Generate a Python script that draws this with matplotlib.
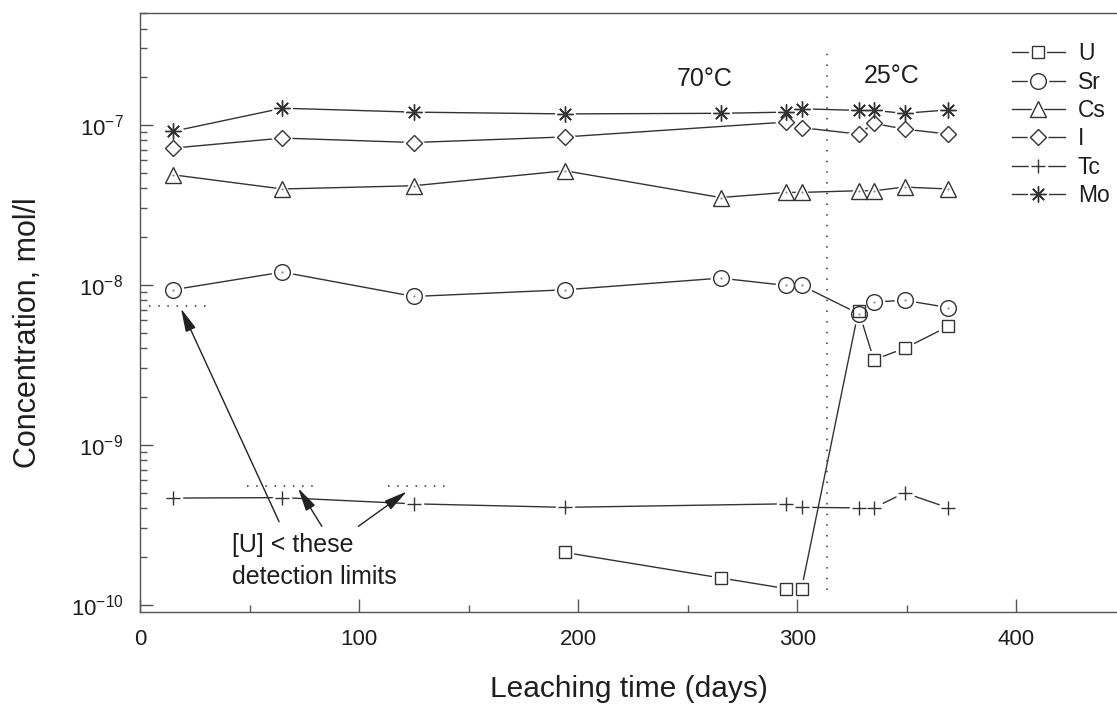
import numpy as np
import matplotlib
matplotlib.use('Agg')
import matplotlib.pyplot as plt
from matplotlib.lines import Line2D
from matplotlib.ticker import FixedLocator, FuncFormatter, MultipleLocator, NullFormatter

plt.rcParams['font.family'] = ['Liberation Sans', 'DejaVu Sans']
plt.rcParams['mathtext.fontset'] = 'custom'
plt.rcParams['mathtext.rm'] = 'Liberation Sans'
plt.rcParams['mathtext.it'] = 'Liberation Sans:italic'
plt.rcParams['mathtext.bf'] = 'Liberation Sans:bold'

# ---------------- data ----------------
days_U = [194, 265, 295, 302, 328, 335, 349, 369]
U = [2.12e-10, 1.47e-10, 1.26e-10, 1.26e-10, 6.9e-9, 3.4e-9, 4.0e-9, 5.5e-9]

days_Sr = [15, 65, 125, 194, 265, 295, 302, 328, 335, 349, 369]
Sr = [9.3e-9, 1.2e-8, 8.45e-9, 9.3e-9, 1.1e-8, 9.9e-9, 9.9e-9, 6.6e-9, 7.8e-9, 8.0e-9, 7.2e-9]

days_Cs = [15, 65, 125, 194, 265, 295, 302, 328, 335, 349, 369]
Cs = [4.87e-8, 3.97e-8, 4.16e-8, 5.16e-8, 3.51e-8, 3.78e-8, 3.78e-8, 3.87e-8, 3.87e-8, 4.08e-8, 3.97e-8]

days_I = [15, 65, 125, 194, 295, 302, 328, 335, 349, 369]
I = [7.15e-8, 8.26e-8, 7.75e-8, 8.4e-8, 1.04e-7, 9.6e-8, 8.75e-8, 1.02e-7, 9.4e-8, 8.75e-8]

days_Tc = [15, 65, 125, 194, 295, 302, 328, 335, 349, 369]
Tc = [4.64e-10, 4.67e-10, 4.27e-10, 4.06e-10, 4.27e-10, 4.06e-10, 4.03e-10, 4.03e-10, 5.0e-10, 4.03e-10]

days_Mo = [15, 65, 125, 194, 265, 295, 302, 328, 335, 349, 369]
Mo = [9.1e-8, 1.27e-7, 1.2e-7, 1.17e-7, 1.18e-7, 1.2e-7, 1.26e-7, 1.23e-7, 1.23e-7, 1.18e-7, 1.24e-7]

labels = ['U', 'Sr', 'Cs', 'I', 'Tc', 'Mo']

# y-axis ticks
y_major = [1e-10, 1e-9, 1e-8, 1e-7]
y_minor = [m * 10.0 ** e for e in range(-10, -6) for m in range(2, 10) if m * 10.0 ** e <= 5e-7]

# detection limits for U (x-range start, x-range end, value)
det_x0 = [4, 49, 113]
det_x1 = [31, 82, 140]
det_val = [7.4e-9, 5.5e-10, 5.5e-10]

# temperature change
t_switch = 313.5

# ---------------- styling ----------------
C = '#333333'
TXT = '#1e1e1e'
ASTER = (8, 2, 0)
styles = {
    'U':  dict(marker='s', ms=9.0, halo='s', hms=13.5),
    'Sr': dict(marker='o', ms=11.3, halo='o', hms=15.5),
    'Cs': dict(marker='^', ms=11.8, halo='^', hms=16.8),
    'I':  dict(marker='D', ms=8.0, halo='D', hms=11.5),
    'Tc': dict(marker='+', ms=9.5, halo='o', hms=14.0),
    'Mo': dict(marker=ASTER, ms=11.5, halo='o', hms=15.0),
}
series = {
    'U': (days_U, U), 'Sr': (days_Sr, Sr), 'Cs': (days_Cs, Cs),
    'I': (days_I, I), 'Tc': (days_Tc, Tc), 'Mo': (days_Mo, Mo),
}

fig = plt.figure(figsize=(11.17, 7.04), dpi=100)
ax = fig.add_axes([140 / 1117, 1 - 612 / 704, 1 - 140 / 1117, (612 - 13) / 704])
ax.set_yscale('log')
ax.set_xlim(0, 446)
ax.set_ylim(9.0e-11, 5.0e-7)

handles = []
for name in labels:
    x, y = series[name]
    st = styles[name]
    ax.plot(x, y, '-', color=C, lw=1.0, zorder=2)
    ax.plot(x, y, ls='none', marker=st['halo'], ms=st['hms'], mfc='white',
            mec='white', mew=0, zorder=3)
    ax.plot(x, y, ls='none', marker=st['marker'], ms=st['ms'], mfc='none',
            mec=C, mew=1.0, zorder=4)
    if name in ('Sr', 'Cs'):
        ax.plot(x, y, ls='none', marker='.', ms=1.0, color='#777777', zorder=4)
    h_line = Line2D([], [], color=C, lw=1.0)
    h_halo = Line2D([], [], ls='none', marker=st['halo'], ms=st['hms'], mfc='white',
                    mec='white', mew=0)
    h_mark = Line2D([], [], ls='none', marker=st['marker'], ms=st['ms'], mfc='none',
                    mec=C, mew=1.0)
    handles.append((h_line, h_halo, h_mark))

# vertical dotted separator
ax.plot([t_switch, t_switch], [1.24e-10, 3.0e-7], color=C, lw=1.1,
        ls=(0, (1, 6)), zorder=1)

# detection limit dotted lines
for a, b, v in zip(det_x0, det_x1, det_val):
    ax.plot([a, b], [v, v], color=C, lw=1.1, ls=(0, (1, 5)), zorder=1)

# arrows
arrow_kw = dict(arrowstyle='-|>,head_length=0.95,head_width=0.22', color='#222222',
                lw=1.0, shrinkA=0, shrinkB=0, mutation_scale=15)
ax.annotate('', xy=(18.7, 7.1e-9), xytext=(63.5, 3.3e-10), arrowprops=arrow_kw, zorder=6)
ax.annotate('', xy=(72.2, 5.35e-10), xytext=(83, 3.09e-10), arrowprops=arrow_kw, zorder=6)
ax.annotate('', xy=(121.8, 5.1e-10), xytext=(99.7, 3.09e-10), arrowprops=arrow_kw, zorder=6)

ax.text(42, 1.88e-10, '[U] < these\ndetection limits', fontsize=18, color=TXT,
        ha='left', va='center', linespacing=1.45, zorder=6)
ax.text(258, 1.94e-7, '70°C', fontsize=18, color=TXT, ha='center', va='center')
ax.text(343, 2.02e-7, '25°C', fontsize=18, color=TXT, ha='center', va='center')

# axes styling
for s in ['left', 'bottom', 'top']:
    ax.spines[s].set_color('#555555')
    ax.spines[s].set_linewidth(1.0)
ax.spines['right'].set_visible(False)

ax.xaxis.set_major_locator(MultipleLocator(100))
ax.xaxis.set_minor_locator(MultipleLocator(50))
ax.yaxis.set_major_locator(FixedLocator(y_major))
ax.yaxis.set_minor_locator(FixedLocator(y_minor))
ax.yaxis.set_major_formatter(FuncFormatter(
    lambda v, p: r'$\mathregular{10^{%d}}$' % int(round(np.log10(v)))))
ax.yaxis.set_minor_formatter(NullFormatter())

ax.tick_params(which='both', direction='in', colors='#555555', labelcolor=TXT,
               labelsize=16, top=False, right=False)
ax.tick_params(which='major', length=9.5, width=1.0, pad=12)
ax.tick_params(which='minor', length=5, width=1.0)

ax.set_xlabel('Leaching time (days)', fontsize=21.5, color=TXT)
ax.xaxis.label.set_va('baseline')
ax.xaxis.set_label_coords(0.5, (612 - 697) / 599)
ax.set_ylabel('Concentration, mol/l', fontsize=22, color=TXT)
ax.yaxis.label.set_va('center')
ax.yaxis.set_label_coords((28 - 140) / 977, 0.467)

leg = fig.legend(handles, labels, loc='upper left',
                 bbox_to_anchor=(1012 / 1117, 1 - 42.5 / 704),
                 bbox_transform=fig.transFigure, frameon=False, fontsize=16.5,
                 handlelength=2.3, handletextpad=0.57, labelspacing=0.23,
                 borderpad=0, borderaxespad=0, numpoints=1)
for t in leg.get_texts():
    t.set_color(TXT)

fig.savefig('out.png', dpi=100, facecolor='white')
